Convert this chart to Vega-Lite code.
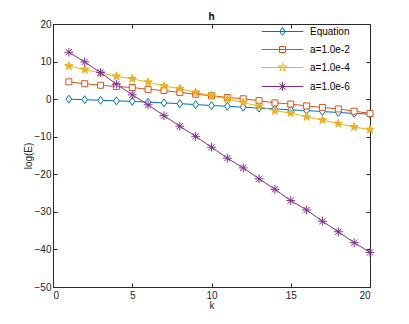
{
 "$schema": "https://vega.github.io/schema/vega-lite/v6.json",
 "width": 317, "height": 263,
 "autosize": {"type": "none"},
 "padding": {"left": 53, "top": 24, "right": 39, "bottom": 37},
 "background": "white",
 "title": {"text": "h", "fontSize": 10, "fontWeight": "bold", "font": "Liberation Sans", "color": "#000000", "offset": -3},
 "config": {
  "view": {"stroke": null},
  "font": "Liberation Sans",
  "axis": {"grid": false, "domainColor": "#262626", "tickColor": "#262626", "labelColor": "#262626", "titleColor": "#262626", "labelFontSize": 10, "titleFontSize": 10, "titleFontWeight": "normal", "labelFont": "Liberation Sans", "titleFont": "Liberation Sans", "tickSize": -4, "labelPadding": 7, "domainWidth": 1, "tickWidth": 1}
 },
 "data": {"values": [
  {"k":1,"series":"Equation","v":0},{"k":2,"series":"Equation","v":-0.15},{"k":3,"series":"Equation","v":-0.3},{"k":4,"series":"Equation","v":-0.45},{"k":5,"series":"Equation","v":-0.6},{"k":6,"series":"Equation","v":-0.8},{"k":7,"series":"Equation","v":-1.0},{"k":8,"series":"Equation","v":-1.2},{"k":9,"series":"Equation","v":-1.45},{"k":10,"series":"Equation","v":-1.7},{"k":11,"series":"Equation","v":-1.9},{"k":12,"series":"Equation","v":-2.15},{"k":13,"series":"Equation","v":-2.4},{"k":14,"series":"Equation","v":-2.6},{"k":15,"series":"Equation","v":-2.85},{"k":16,"series":"Equation","v":-3.05},{"k":17,"series":"Equation","v":-3.3},{"k":18,"series":"Equation","v":-3.55},{"k":19,"series":"Equation","v":-3.8},{"k":20,"series":"Equation","v":-4.0},
  {"k":1,"series":"a=1.0e-2","v":4.6},{"k":2,"series":"a=1.0e-2","v":4.1},{"k":3,"series":"a=1.0e-2","v":3.7},{"k":4,"series":"a=1.0e-2","v":3.35},{"k":5,"series":"a=1.0e-2","v":3.1},{"k":6,"series":"a=1.0e-2","v":2.6},{"k":7,"series":"a=1.0e-2","v":2.3},{"k":8,"series":"a=1.0e-2","v":1.8},{"k":9,"series":"a=1.0e-2","v":1.3},{"k":10,"series":"a=1.0e-2","v":0.9},{"k":11,"series":"a=1.0e-2","v":0.45},{"k":12,"series":"a=1.0e-2","v":0.1},{"k":13,"series":"a=1.0e-2","v":-0.4},{"k":14,"series":"a=1.0e-2","v":-1.0},{"k":15,"series":"a=1.0e-2","v":-1.3},{"k":16,"series":"a=1.0e-2","v":-1.8},{"k":17,"series":"a=1.0e-2","v":-2.2},{"k":18,"series":"a=1.0e-2","v":-2.6},{"k":19,"series":"a=1.0e-2","v":-3.2},{"k":20,"series":"a=1.0e-2","v":-3.8},
  {"k":1,"series":"a=1.0e-4","v":8.8},{"k":2,"series":"a=1.0e-4","v":7.85},{"k":3,"series":"a=1.0e-4","v":6.97},{"k":4,"series":"a=1.0e-4","v":6.1},{"k":5,"series":"a=1.0e-4","v":5.4},{"k":6,"series":"a=1.0e-4","v":4.5},{"k":7,"series":"a=1.0e-4","v":3.5},{"k":8,"series":"a=1.0e-4","v":2.8},{"k":9,"series":"a=1.0e-4","v":1.8},{"k":10,"series":"a=1.0e-4","v":0.9},{"k":11,"series":"a=1.0e-4","v":0},{"k":12,"series":"a=1.0e-4","v":-0.9},{"k":13,"series":"a=1.0e-4","v":-1.9},{"k":14,"series":"a=1.0e-4","v":-3.1},{"k":15,"series":"a=1.0e-4","v":-3.7},{"k":16,"series":"a=1.0e-4","v":-4.7},{"k":17,"series":"a=1.0e-4","v":-5.6},{"k":18,"series":"a=1.0e-4","v":-6.5},{"k":19,"series":"a=1.0e-4","v":-7.4},{"k":20,"series":"a=1.0e-4","v":-8.1},
  {"k":1,"series":"a=1.0e-6","v":12.5},{"k":2,"series":"a=1.0e-6","v":9.9},{"k":3,"series":"a=1.0e-6","v":7.06},{"k":4,"series":"a=1.0e-6","v":4.0},{"k":5,"series":"a=1.0e-6","v":1.15},{"k":6,"series":"a=1.0e-6","v":-1.5},{"k":7,"series":"a=1.0e-6","v":-4.4},{"k":8,"series":"a=1.0e-6","v":-7.2},{"k":9,"series":"a=1.0e-6","v":-9.9},{"k":10,"series":"a=1.0e-6","v":-12.8},{"k":11,"series":"a=1.0e-6","v":-15.7},{"k":12,"series":"a=1.0e-6","v":-18.3},{"k":13,"series":"a=1.0e-6","v":-21.2},{"k":14,"series":"a=1.0e-6","v":-24.0},{"k":15,"series":"a=1.0e-6","v":-27.0},{"k":16,"series":"a=1.0e-6","v":-29.5},{"k":17,"series":"a=1.0e-6","v":-32.5},{"k":18,"series":"a=1.0e-6","v":-35.3},{"k":19,"series":"a=1.0e-6","v":-38.2},{"k":20,"series":"a=1.0e-6","v":-40.8}
 ]},
 "layer": [
  {"mark": {"type": "line", "strokeWidth": 1},
   "encoding": {
    "x": {"field": "k", "type": "quantitative", "scale": {"domain": [0, 20], "nice": false, "zero": false}, "axis": {"values": [0, 5, 10, 15, 20], "title": "k", "titlePadding": 0}},
    "y": {"field": "v", "type": "quantitative", "scale": {"domain": [-50, 20], "nice": false, "zero": false}, "axis": {"values": [-50, -40, -30, -20, -10, 0, 10, 20], "title": "log(E)", "titlePadding": 1, "labelPadding": 6}},
    "stroke": {"field": "series", "type": "nominal", "sort": null, "scale": {"domain": ["Equation", "a=1.0e-2", "a=1.0e-4", "a=1.0e-6"], "range": ["#0072BD", "#D95319", "#EDB120", "#7E2F8E"]}, "legend": null}
   }},
  {"mark": {"type": "point", "strokeWidth": 1, "opacity": 1},
   "encoding": {
    "x": {"field": "k", "type": "quantitative", "axis": {"orient": "top", "values": [0, 5, 10, 15, 20], "labels": false, "title": null}},
    "y": {"field": "v", "type": "quantitative", "axis": {"orient": "right", "values": [-50, -40, -30, -20, -10, 0, 10, 20], "labels": false, "title": null}},
    "stroke": {"field": "series", "type": "nominal", "sort": null, "legend": null},
    "fill": {"field": "series", "type": "nominal", "sort": null, "scale": {"domain": ["Equation", "a=1.0e-2", "a=1.0e-4", "a=1.0e-6"], "range": ["white", "white", "#EDB120", "transparent"]}, "legend": null},
    "shape": {"field": "series", "type": "nominal", "sort": null, "scale": {"domain": ["Equation", "a=1.0e-2", "a=1.0e-4", "a=1.0e-6"], "range": [
      "M0,-1L0.7,0L0,1L-0.7,0Z",
      "M-0.75,-0.75L0.75,-0.75L0.75,0.75L-0.75,0.75Z",
      "M0,-1.1L0.25,-0.34L1.05,-0.34L0.4,0.13L0.65,0.89L0,0.42L-0.65,0.89L-0.4,0.13L-1.05,-0.34L-0.25,-0.34Z",
      "M-1.1,0L1.1,0M0,-1.1L0,1.1M-0.78,-0.78L0.78,0.78M-0.78,0.78L0.78,-0.78"]}, "legend": null},
    "size": {"value": 64}
   }},
  {"transform": [{"filter": "datum.k < 0"}],
   "mark": {"type": "point", "opacity": 1, "strokeWidth": 1},
   "encoding": {
    "shape": {"field": "series", "type": "nominal", "sort": null, "scale": {"domain": ["Equation", "a=1.0e-2", "a=1.0e-4", "a=1.0e-6"], "range": [
      "M-4.16,0L4.16,0M0,-0.8L0.56,0L0,0.8L-0.56,0Z",
      "M-4.16,0L4.16,0M-0.6,-0.6L0.6,-0.6L0.6,0.6L-0.6,0.6Z",
      "M-4.16,0L4.16,0M0,-0.88L0.2,-0.27L0.84,-0.27L0.32,0.1L0.52,0.71L0,0.34L-0.52,0.71L-0.32,0.1L-0.84,-0.27L-0.2,-0.27Z",
      "M-4.16,0L4.16,0M-0.88,0L0.88,0M0,-0.88L0,0.88M-0.62,-0.62L0.62,0.62M-0.62,0.62L0.62,-0.62"]},
     "legend": {"orient": "none", "legendX": 224, "legendY": 2, "title": null, "padding": 0, "symbolOffset": 0, "labelOffset": 22, "labelFontSize": 10, "labelFont": "Liberation Sans", "labelColor": "#000000", "rowPadding": 6, "symbolStrokeWidth": 1, "symbolOpacity": 1,
      "symbolStrokeColor": {"expr": "datum.value == 'Equation' ? '#0072BD' : datum.value == 'a=1.0e-2' ? '#D95319' : datum.value == 'a=1.0e-4' ? '#EDB120' : '#7E2F8E'"},
      "symbolFillColor": {"expr": "datum.value == 'a=1.0e-4' ? '#EDB120' : 'white'"}}}
   }}
 ],
 "resolve": {"scale": {"shape": "independent"}, "axis": {"x": "independent", "y": "independent"}}
}
